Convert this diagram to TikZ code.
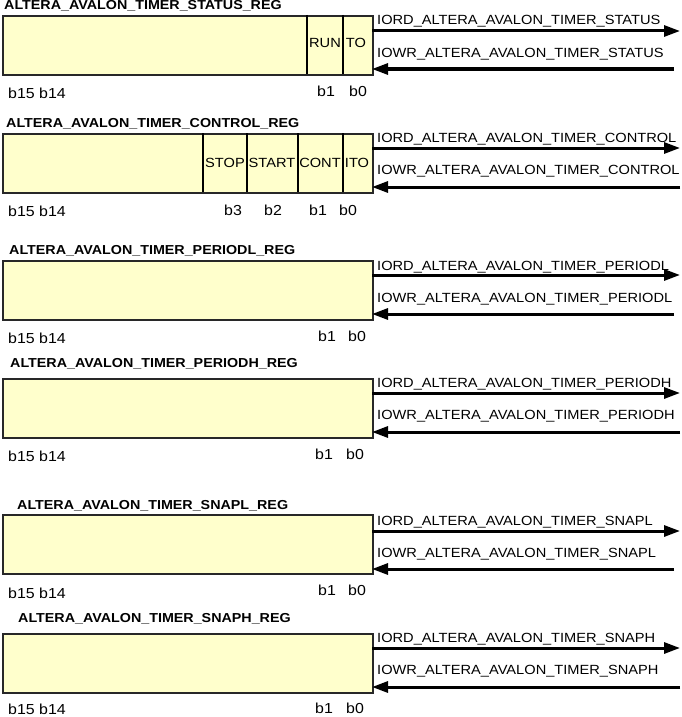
\documentclass[tikz,border=0pt]{standalone}
\usepackage{fontspec}
\setmainfont{Liberation Sans}
\newfontfamily\labfont[FakeStretch=1.1]{Liberation Sans}
\usetikzlibrary{arrows.meta}
\definecolor{regfill}{RGB}{255,255,204}
\definecolor{regedge}{RGB}{40,40,40}
\tikzset{
  regbox/.style={draw=regedge, line width=1.6pt, fill=regfill, inner sep=0pt, anchor=north west},
  divider/.style={draw=black, line width=1.8pt},
  regtitle/.style={anchor=west, inner sep=0pt, font=\labfont\fontsize{13}{15}\selectfont\bfseries},
  fieldlbl/.style={inner sep=0pt, font=\labfont\fontsize{13.3}{15}\selectfont},
  siglbl/.style={anchor=west, inner sep=0pt, font=\labfont\fontsize{13.3}{15}\selectfont},
  bitlbl/.style={inner sep=0pt, font=\labfont\fontsize{14.5}{16}\selectfont},
  sigarrow/.style={draw=black, line width=3pt, -{Triangle[length=16pt,width=11pt]}},
}
\begin{document}
\begin{tikzpicture}[x=1pt,y=-1pt]
\useasboundingbox (0,0) rectangle (682,717);

% ---------- STATUS ----------
\node[regtitle] (t1) at (4,6) {ALTERA\_AVALON\_TIMER\_STATUS\_REG};
\node[regbox, minimum width=370pt, minimum height=59pt] (r1) at (2,15) {};
\draw[divider] (307,15) -- (307,74);
\draw[divider] (343,15) -- (343,74);
\node[fieldlbl] (f1a) at (325,43) {RUN};
\node[fieldlbl] (f1b) at (356,43) {TO};
\coordinate (a1s) at (372,31); \coordinate (a1e) at (680,31);
\coordinate (b1s) at (674,69); \coordinate (b1e) at (372,69);
\draw[sigarrow] (a1s) -- (a1e);
\draw[sigarrow] (b1s) -- (b1e);
\node[siglbl] (s1a) at (377,21) {IORD\_ALTERA\_AVALON\_TIMER\_STATUS};
\node[siglbl] (s1b) at (377,54) {IOWR\_ALTERA\_AVALON\_TIMER\_STATUS};
\node[bitlbl, anchor=west] (h1) at (8,93) {b15 b14};
\node[bitlbl] (l1a) at (326,91) {b1};
\node[bitlbl] (l1b) at (358,91) {b0};

% ---------- CONTROL ----------
\node[regtitle] (t2) at (6,124) {ALTERA\_AVALON\_TIMER\_CONTROL\_REG};
\node[regbox, minimum width=370pt, minimum height=59pt] (r2) at (2,133) {};
\draw[divider] (203,133) -- (203,192);
\draw[divider] (247,133) -- (247,192);
\draw[divider] (298,133) -- (298,192);
\draw[divider] (343,133) -- (343,192);
\node[fieldlbl] (f2a) at (225,163) {STOP};
\node[fieldlbl] (f2b) at (272,163) {START};
\node[fieldlbl] (f2c) at (320,163) {CONT};
\node[fieldlbl] (f2d) at (357,163) {ITO};
\coordinate (a2s) at (372,148); \coordinate (a2e) at (680,148);
\coordinate (b2s) at (680,187); \coordinate (b2e) at (372,187);
\draw[sigarrow] (a2s) -- (a2e);
\draw[sigarrow] (b2s) -- (b2e);
\node[siglbl] (s2a) at (377,139) {IORD\_ALTERA\_AVALON\_TIMER\_CONTROL};
\node[siglbl] (s2b) at (377,171) {IOWR\_ALTERA\_AVALON\_TIMER\_CONTROL};
\node[bitlbl, anchor=west] (h2) at (8,211) {b15 b14};
\node[bitlbl] (l2a) at (233,210) {b3};
\node[bitlbl] (l2b) at (273,210) {b2};
\node[bitlbl] (l2c) at (318,210) {b1};
\node[bitlbl] (l2d) at (348,210) {b0};

% ---------- PERIODL ----------
\node[regtitle] (t3) at (9,251) {ALTERA\_AVALON\_TIMER\_PERIODL\_REG};
\node[regbox, minimum width=370pt, minimum height=59pt] (r3) at (2,260) {};
\coordinate (a3s) at (372,275); \coordinate (a3e) at (680,275);
\coordinate (b3s) at (674,314); \coordinate (b3e) at (372,314);
\draw[sigarrow] (a3s) -- (a3e);
\draw[sigarrow] (b3s) -- (b3e);
\node[siglbl] (s3a) at (377,267) {IORD\_ALTERA\_AVALON\_TIMER\_PERIODL};
\node[siglbl] (s3b) at (377,299) {IOWR\_ALTERA\_AVALON\_TIMER\_PERIODL};
\node[bitlbl, anchor=west] (h3) at (8,338) {b15 b14};
\node[bitlbl] (l3a) at (327,336) {b1};
\node[bitlbl] (l3b) at (357,336) {b0};

% ---------- PERIODH ----------
\node[regtitle] (t4) at (10,364) {ALTERA\_AVALON\_TIMER\_PERIODH\_REG};
\node[regbox, minimum width=370pt, minimum height=59pt] (r4) at (2,378) {};
\coordinate (a4s) at (372,393); \coordinate (a4e) at (680,393);
\coordinate (b4s) at (680,432); \coordinate (b4e) at (372,432);
\draw[sigarrow] (a4s) -- (a4e);
\draw[sigarrow] (b4s) -- (b4e);
\node[siglbl] (s4a) at (377,384) {IORD\_ALTERA\_AVALON\_TIMER\_PERIODH};
\node[siglbl] (s4b) at (377,416) {IOWR\_ALTERA\_AVALON\_TIMER\_PERIODH};
\node[bitlbl, anchor=west] (h4) at (8,456) {b15 b14};
\node[bitlbl] (l4a) at (324,454) {b1};
\node[bitlbl] (l4b) at (355,454) {b0};

% ---------- SNAPL ----------
\node[regtitle] (t5) at (17,506) {ALTERA\_AVALON\_TIMER\_SNAPL\_REG};
\node[regbox, minimum width=370pt, minimum height=59pt] (r5) at (2,514) {};
\coordinate (a5s) at (372,531); \coordinate (a5e) at (680,531);
\coordinate (b5s) at (674,569); \coordinate (b5e) at (372,569);
\draw[sigarrow] (a5s) -- (a5e);
\draw[sigarrow] (b5s) -- (b5e);
\node[siglbl] (s5a) at (377,522) {IORD\_ALTERA\_AVALON\_TIMER\_SNAPL};
\node[siglbl] (s5b) at (377,554) {IOWR\_ALTERA\_AVALON\_TIMER\_SNAPL};
\node[bitlbl, anchor=west] (h5) at (8,593) {b15 b14};
\node[bitlbl] (l5a) at (327,590) {b1};
\node[bitlbl] (l5b) at (357,590) {b0};

% ---------- SNAPH ----------
\node[regtitle] (t6) at (18,619) {ALTERA\_AVALON\_TIMER\_SNAPH\_REG};
\node[regbox, minimum width=370pt, minimum height=59pt] (r6) at (2,633) {};
\coordinate (a6s) at (372,648); \coordinate (a6e) at (680,648);
\coordinate (b6s) at (680,687); \coordinate (b6e) at (372,687);
\draw[sigarrow] (a6s) -- (a6e);
\draw[sigarrow] (b6s) -- (b6e);
\node[siglbl] (s6a) at (377,639) {IORD\_ALTERA\_AVALON\_TIMER\_SNAPH};
\node[siglbl] (s6b) at (377,671) {IOWR\_ALTERA\_AVALON\_TIMER\_SNAPH};
\node[bitlbl, anchor=west] (h6) at (8,709.5) {b15 b14};
\node[bitlbl] (l6a) at (324,708.5) {b1};
\node[bitlbl] (l6b) at (355,708.5) {b0};
\end{tikzpicture}
\end{document}
